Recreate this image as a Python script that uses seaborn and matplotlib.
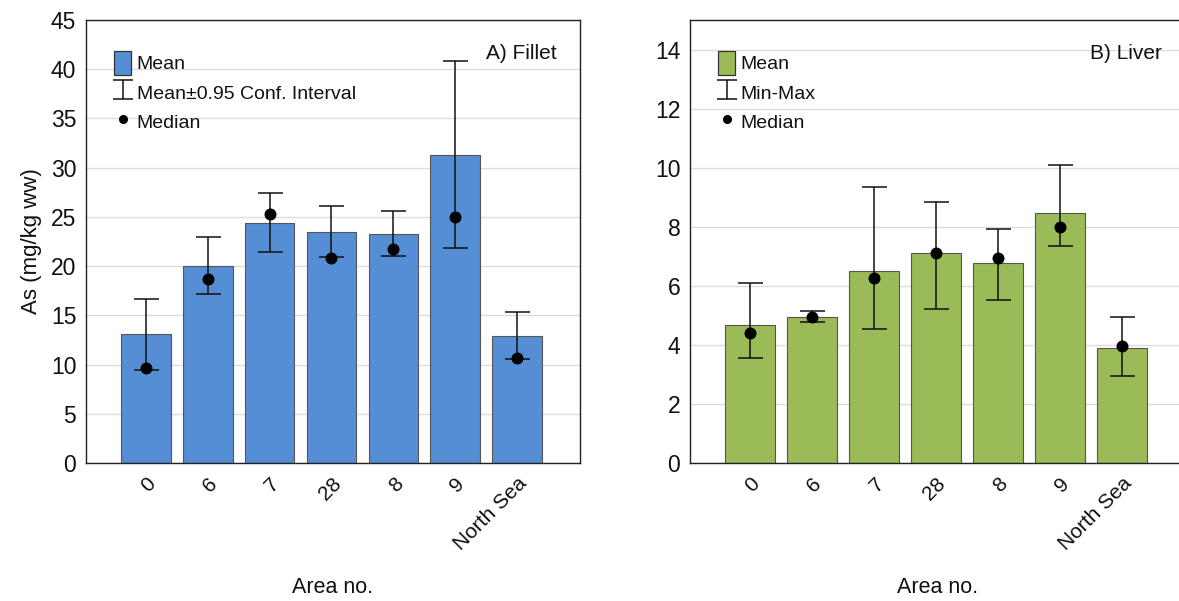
import numpy as np
import pandas as pd
import matplotlib
matplotlib.use("Agg")
import matplotlib.pyplot as plt
import seaborn as sns
from matplotlib.patches import Patch
from matplotlib.lines import Line2D

areas = ["0", "6", "7", "28", "8", "9", "North Sea"]

fillet_mean = [13.06, 20.03, 24.42, 23.51, 23.24, 31.29, 12.86]
fillet_ci_low = [9.47, 17.19, 21.41, 20.91, 21.01, 21.82, 10.52]
fillet_ci_high = [16.64, 22.94, 27.47, 26.15, 25.58, 40.80, 15.29]
fillet_median = [9.68, 18.74, 25.34, 20.87, 21.75, 25.00, 10.66]

liver_mean = [4.67, 4.96, 6.49, 7.10, 6.77, 8.48, 3.91]
liver_min = [3.57, 4.79, 4.54, 5.21, 5.53, 7.34, 2.96]
liver_max = [6.11, 5.15, 9.33, 8.83, 7.91, 10.09, 4.93]
liver_median = [4.39, 4.93, 6.25, 7.12, 6.94, 7.99, 3.97]

sns.set_style("white")
plt.rcParams["font.family"] = ["Liberation Sans", "DejaVu Sans"]

W, H = 1179, 601
fig = plt.figure(figsize=(W / 100, H / 100), dpi=100)
ax1 = fig.add_axes([86 / W, (H - 463) / H, (580 - 86) / W, (463 - 20) / H])
ax2 = fig.add_axes([690 / W, (H - 463) / H, (1185 - 690) / W, (463 - 20) / H])


def panel(ax, mean, lo, hi, med, color, ylim, yticks, errlabel, title):
    df = pd.DataFrame({"area": areas, "mean": mean})
    sns.barplot(data=df, x="area", y="mean", order=areas, color=color,
                saturation=1, width=0.8, edgecolor="#555555", linewidth=0.8,
                ax=ax, zorder=2)
    pos = np.arange(len(areas))
    mean_a = np.array(mean)
    yerr = [mean_a - np.array(lo), np.array(hi) - mean_a]
    ax.errorbar(pos, mean_a, yerr=yerr, fmt="none", ecolor="#111111",
                elinewidth=1.1, capsize=9, capthick=1.1, zorder=3)
    ax.scatter(pos, med, s=58, color="black", zorder=4)
    ax.set_xlim(-0.97, 7.02)
    ax.set_ylim(*ylim)
    ax.set_yticks(yticks)
    ax.yaxis.grid(True, color="#dcdcdc", linewidth=1.0, zorder=0)
    ax.set_axisbelow(True)
    for s in ax.spines.values():
        s.set_visible(True)
        s.set_color("#222222")
        s.set_linewidth(1.0)
    ax.tick_params(axis="y", labelsize=16.5, length=3, direction="out",
                   color="#222222", pad=4, labelcolor="#111111")
    ax.tick_params(axis="x", labelsize=15, length=5, direction="in",
                   color="#222222", pad=8, labelcolor="#111111")
    plt.setp(ax.get_xticklabels(), rotation=45, ha="right",
             rotation_mode="anchor")
    ax.set_xlabel("Area no.", fontsize=15.5, labelpad=16, color="#111111")
    ax.set_ylabel("")
    ax.text(0.953, 0.945, title, transform=ax.transAxes, ha="right",
            va="top", fontsize=15, color="#111111")
    # legend
    eb = ax.errorbar([np.nan], [np.nan], yerr=[[1], [1]], fmt="none",
                     ecolor="#111111", elinewidth=1.1, capsize=7,
                     capthick=1.1, label=errlabel)
    handles = [
        Patch(facecolor=color, edgecolor="#333333", linewidth=0.9, label="Mean"),
        eb,
        Line2D([], [], marker="o", linestyle="none", color="black",
               markersize=5.5, label="Median"),
    ]
    leg = ax.legend(handles=handles, loc="upper left", frameon=False,
                    fontsize=14, handlelength=0.85, handleheight=1.5,
                    handletextpad=0.3, labelspacing=0.3, borderaxespad=0.5,
                    bbox_to_anchor=(0.022, 0.97))
    for t in leg.get_texts():
        t.set_color("#111111")


panel(ax1, fillet_mean, fillet_ci_low, fillet_ci_high, fillet_median,
      "#558ED5", (0, 45), range(0, 46, 5), "Mean\u00b10.95 Conf. Interval",
      "A) Fillet")
panel(ax2, liver_mean, liver_min, liver_max, liver_median,
      "#9BBB59", (0, 15), range(0, 15, 2), "Min-Max", "B) Liver")
ax2.spines["right"].set_visible(False)

ax1.set_ylabel("As (mg/kg ww)", fontsize=16, labelpad=6, color="#111111")

fig.savefig("out.png", dpi=100)
